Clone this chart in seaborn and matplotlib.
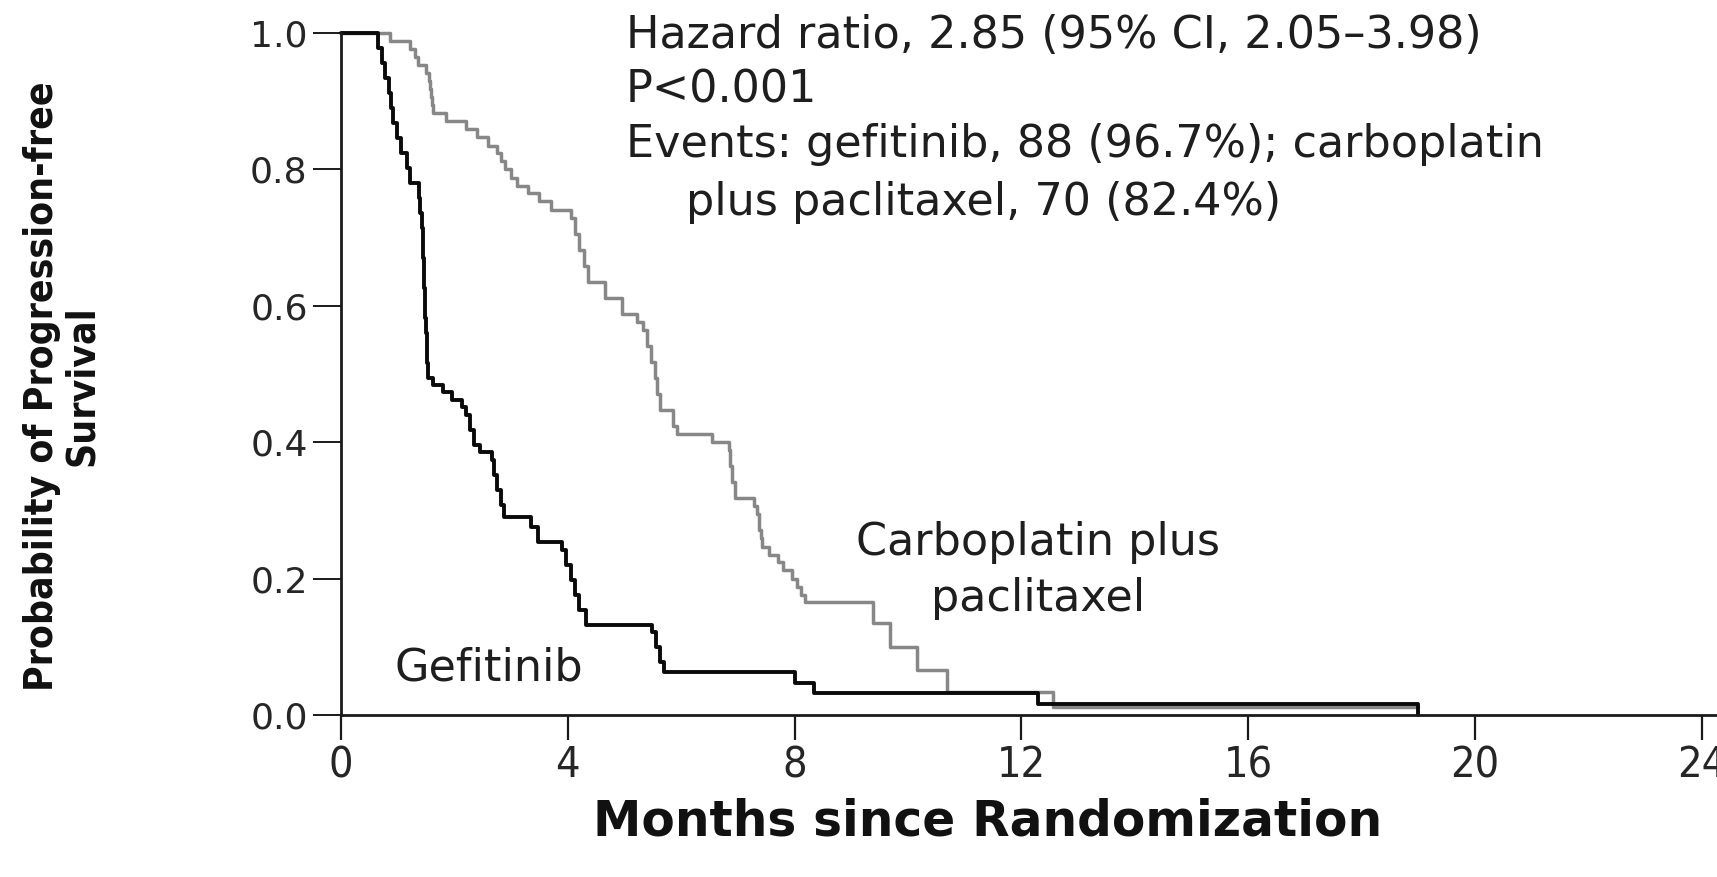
import matplotlib
matplotlib.use("Agg")
import matplotlib.pyplot as plt
import pandas as pd
import seaborn as sns

# Kaplan-Meier step estimates (months, survival probability after the step)
gef_months = [0.0, 0.66, 0.72, 0.78, 0.84, 0.88, 0.92, 0.98, 1.05, 1.17, 1.22,
              1.37, 1.40, 1.42, 1.44, 1.45, 1.46, 1.47, 1.48, 1.49, 1.50, 1.51,
              1.52, 1.53, 1.62, 1.80, 1.95, 2.14, 2.20, 2.27, 2.34, 2.45, 2.67,
              2.70, 2.76, 2.82, 2.87, 3.35, 3.47, 3.90, 3.96, 4.05, 4.12, 4.20,
              4.32, 5.48, 5.55, 5.62, 5.70, 8.00, 8.35, 12.30, 19.00]
gef_surv = [1.000, 0.978, 0.956, 0.934, 0.912, 0.890, 0.868, 0.846, 0.824, 0.802, 0.780,
            0.758, 0.736, 0.714, 0.692, 0.670, 0.648, 0.626, 0.604, 0.582, 0.560, 0.538,
            0.516, 0.494, 0.484, 0.473, 0.462, 0.451, 0.440, 0.418, 0.396, 0.385, 0.374,
            0.352, 0.330, 0.308, 0.290, 0.275, 0.253, 0.242, 0.220, 0.198, 0.176, 0.154,
            0.132, 0.121, 0.099, 0.077, 0.063, 0.047, 0.032, 0.016, 0.000]

cp_months = [0.0, 0.87, 1.22, 1.30, 1.36, 1.50, 1.55, 1.57, 1.59, 1.61, 1.63,
             1.85, 2.20, 2.40, 2.60, 2.75, 2.82, 2.90, 3.00, 3.10, 3.30, 3.50,
             3.70, 4.05, 4.12, 4.20, 4.28, 4.36, 4.65, 4.95, 5.22, 5.32, 5.40,
             5.47, 5.53, 5.58, 5.63, 5.86, 5.93, 6.54, 6.84, 6.87, 6.90, 6.95,
             7.29, 7.33, 7.37, 7.40, 7.43, 7.55, 7.70, 7.80, 7.95, 8.05, 8.12,
             8.18, 9.38, 9.68, 10.16, 10.69, 12.55, 19.00]
cp_surv = [1.000, 0.988, 0.976, 0.965, 0.953, 0.941, 0.929, 0.918, 0.906, 0.894, 0.882,
           0.871, 0.859, 0.847, 0.835, 0.824, 0.812, 0.800, 0.788, 0.776, 0.765, 0.753,
           0.741, 0.729, 0.706, 0.682, 0.659, 0.635, 0.612, 0.588, 0.576, 0.565, 0.541,
           0.518, 0.494, 0.471, 0.447, 0.424, 0.412, 0.400, 0.388, 0.365, 0.341, 0.318,
           0.306, 0.294, 0.271, 0.259, 0.247, 0.235, 0.224, 0.212, 0.200, 0.188, 0.176,
           0.165, 0.135, 0.100, 0.066, 0.033, 0.012, 0.012]

x_ticks = [0, 4, 8, 12, 16, 20, 24]
y_ticks = [0.0, 0.2, 0.4, 0.6, 0.8, 1.0]

stats_lines = [
    "Hazard ratio, 2.85 (95% CI, 2.05\u20133.98)",
    "P<0.001",
    "Events: gefitinib, 88 (96.7%); carboplatin",
    "plus paclitaxel, 70 (82.4%)",
]
stats_left = [626, 626, 626, 686]
stats_y = [36, 90, 144, 202]

gef = pd.DataFrame({"month": gef_months, "surv": gef_surv})
cp = pd.DataFrame({"month": cp_months, "surv": cp_surv})

sns.set_theme(style="ticks")
plt.rcParams["font.family"] = ["DejaVu Sans"]

W, H = 1717, 877
fig = plt.figure(figsize=(W / 100, H / 100), dpi=100)
ax = fig.add_axes([341 / W, 162 / H, (W - 341) / W, 682 / H])

sns.lineplot(data=cp, x="month", y="surv", ax=ax, drawstyle="steps-post",
             color="#878787", lw=2.5, estimator=None, sort=False, clip_on=False)
sns.lineplot(data=gef, x="month", y="surv", ax=ax, drawstyle="steps-post",
             color="#0a0a0a", lw=2.8, estimator=None, sort=False, clip_on=False)

ax.set_xlim(0, 24.27)
ax.set_ylim(0, 1.0)
ax.set_xticks(x_ticks)
ax.set_yticks(y_ticks)
ax.set_xticklabels([str(v) for v in x_ticks], fontsize=31, color="#262626",
                   fontstretch="condensed")
ax.set_yticklabels([f"{v:.1f}" for v in y_ticks], fontsize=26, color="#262626")

for side in ("top", "right"):
    ax.spines[side].set_visible(False)
for side in ("left", "bottom"):
    ax.spines[side].set_linewidth(2.0)
    ax.spines[side].set_color("#1a1a1a")
ax.tick_params(axis="y", length=20, width=1.4, pad=4, color="#1a1a1a")
ax.tick_params(axis="x", length=18, width=1.6, pad=3, color="#1a1a1a")

ax.set_xlabel("")
ax.set_ylabel("")
fig.text(988 / W, 1 - 821 / H, "Months since Randomization", ha="center", va="center",
         fontsize=35, fontweight="bold", color="#111111")
fig.text(62 / W, 1 - 386 / H, "Probability of Progression-free\nSurvival", ha="center",
         va="center", rotation=90, fontsize=28, fontweight="bold", color="#111111",
         linespacing=1.05, fontstretch="condensed")

for txt, xx, yy in zip(stats_lines, stats_left, stats_y):
    fig.text(xx / W, 1 - yy / H, txt, ha="left", va="center", fontsize=32,
             color="#1e1e1e")

ax.text(12.3, 0.212, "Carboplatin plus\npaclitaxel", ha="center", va="center",
        fontsize=32, color="#1e1e1e", linespacing=1.4)
ax.text(0.95, 0.069, "Gefitinib", ha="left", va="center", fontsize=32, color="#1e1e1e")

fig.savefig("out.png", dpi=100)
